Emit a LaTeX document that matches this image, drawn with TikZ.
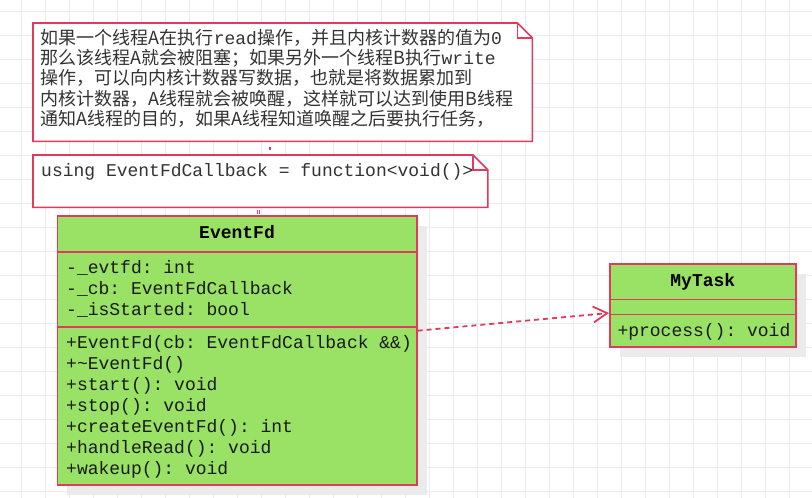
\documentclass[tikz,border=0pt]{standalone}
\usepackage{fontspec}
\setmonofont{Liberation Mono}
\newfontfamily\cjk{Noto Sans CJK SC}
\newfontfamily\lmono{Liberation Mono}
\usetikzlibrary{arrows.meta,shadows}
\definecolor{umlfill}{HTML}{99E265}
\definecolor{umlline}{HTML}{E2395C}
\definecolor{gridc}{HTML}{EBEBEB}
\definecolor{shadowc}{HTML}{EBEBEB}
\definecolor{notetext}{HTML}{333333}
\definecolor{classtext}{HTML}{1A1A1A}
\begin{document}
\frenchspacing
\begin{tikzpicture}[x=1pt,y=-1pt,
  gridline/.style={draw=gridc, line width=1pt},
  classbox/.style={draw=umlline, fill=umlfill, line width=1.6pt, inner sep=0pt, anchor=north west,
     drop shadow={shadow xshift=10pt, shadow yshift=-10pt, fill=shadowc, opacity=1}},
  sepline/.style={draw=umlline, line width=1.6pt},
  notebox/.style={inner sep=0pt, anchor=north west},
  noteline/.style={draw=umlline, fill=white, line width=1.6pt, line join=miter},
  ctext/.style={inner sep=0pt, anchor=base west, text=classtext, font=\lmono\fontsize{18}{20}\selectfont},
  ctitle/.style={inner sep=0pt, anchor=base, text=black, font=\lmono\bfseries\fontsize{18}{20}\selectfont},
  ntext/.style={inner sep=0pt, anchor=base west, text=notetext, font=\cjk\fontsize{18}{20}\selectfont},
  dep/.style={draw=umlline, line width=1.8pt, dash pattern=on 5pt off 4pt, -{Straight Barb[length=14pt, width=16pt, line width=1.8pt]}},
  notelink/.style={draw=umlline, line width=1.2pt}
]
\useasboundingbox (0,0) rectangle (812,498);
\fill[white] (0,0) rectangle (812,498);
% grid
\foreach \i in {0,...,33} { \draw[gridline] ({21.5+24*\i},0) -- ({21.5+24*\i},498); }
\foreach \j in {0,...,20} { \draw[gridline] (0,{11.7+24*\j}) -- (812,{11.7+24*\j}); }

% note 1
\node[notebox, minimum width=499pt, minimum height=118pt] (n1) at (33,23) {};
\draw[noteline] (n1.north west) -- ([xshift=-15pt]n1.north east) -- ([yshift=-15pt]n1.north east) -- (n1.south east) -- (n1.south west) -- cycle;
\draw[noteline, fill=none] ([xshift=-15pt]n1.north east) -- ([xshift=-15pt,yshift=-15pt]n1.north east) -- ([yshift=-15pt]n1.north east);
\node[ntext] (t1) at (40.7,44.3) {如果一个线程A在执行{\lmono read}操作，并且内核计数器的值为{\lmono 0}};
\node[ntext] (t2) at (40.7,64.6) {那么该线程A就会被阻塞；如果另外一个线程B执行{\lmono write}};
\node[ntext] (t3) at (40.7,84.9) {操作，可以向内核计数器写数据，也就是将数据累加到};
\node[ntext] (t4) at (40.7,105.2) {内核计数器，A线程就会被唤醒，这样就可以达到使用B线程};
\node[ntext] (t5) at (40.7,125.5) {通知A线程的目的，如果A线程知道唤醒之后要执行任务，};

% note 2
\node[notebox, minimum width=454.5pt, minimum height=52pt] (n2) at (33,155) {};
\draw[noteline] (n2.north west) -- ([xshift=-15pt]n2.north east) -- ([yshift=-15pt]n2.north east) -- (n2.south east) -- (n2.south west) -- cycle;
\draw[noteline, fill=none] ([xshift=-15pt]n2.north east) -- ([xshift=-15pt,yshift=-15pt]n2.north east) -- ([yshift=-15pt]n2.north east);
\node[ntext, font=\lmono\fontsize{18}{20}\selectfont] (u1) at (41,176.7) {using EventFdCallback = function<void()>};

% EventFd class
\node[classbox, minimum width=359.5pt, minimum height=269pt] (ef) at (56.5,215) {};
\draw[sepline] (ef.west |- 0,251.7) -- (ef.east |- 0,251.7);
\draw[sepline] (ef.west |- 0,326.7) -- (ef.east |- 0,326.7);
\node[ctitle] (eft) at (ef.north |- 0,238.3) {EventFd};
\node[ctext] (efa1) at (66,273.3) {-\_evtfd: int};
\node[ctext] (efa2) at (66,294.3) {-\_cb: EventFdCallback};
\node[ctext] (efa3) at (66,315.3) {-\_isStarted: bool};
\node[ctext] (efm1) at (66,348.8) {+EventFd(cb: EventFdCallback \&\&)};
\node[ctext] (efm2) at (66,369.6) {+\textasciitilde EventFd()};
\node[ctext] (efm3) at (66,390.4) {+start(): void};
\node[ctext] (efm4) at (66,411.2) {+stop(): void};
\node[ctext] (efm5) at (66,432.2) {+createEventFd(): int};
\node[ctext] (efm6) at (66,453.4) {+handleRead(): void};
\node[ctext] (efm7) at (66,474.4) {+wakeup(): void};

% MyTask class
\node[classbox, minimum width=186pt, minimum height=82.7pt] (mt) at (609,263.3) {};
\draw[sepline] (mt.west |- 0,299.3) -- (mt.east |- 0,299.3);
\draw[sepline] (mt.west |- 0,314.3) -- (mt.east |- 0,314.3);
\node[ctitle] (mtt) at (mt.north |- 0,286.7) {MyTask};
\node[ctext] (mtm1) at (617.3,336.3) {+process(): void};

% connectors
\draw[dep] (ef.east |- 0,330.7) -- (mt.west |- 0,313);
\draw[notelink, dash pattern=on 0pt off 6pt on 3pt off 20pt] (n1.south -| 270,0) -- (n2.north -| 270,0);
\draw[notelink, dash pattern=on 0pt off 3pt on 4pt off 20pt] (n2.south -| 257.2,0) -- (ef.north -| 257.2,0);
\draw[notelink, dash pattern=on 0pt off 3pt on 4pt off 20pt] (n2.south -| 259.4,0) -- (ef.north -| 259.4,0);
\end{tikzpicture}
\end{document}
